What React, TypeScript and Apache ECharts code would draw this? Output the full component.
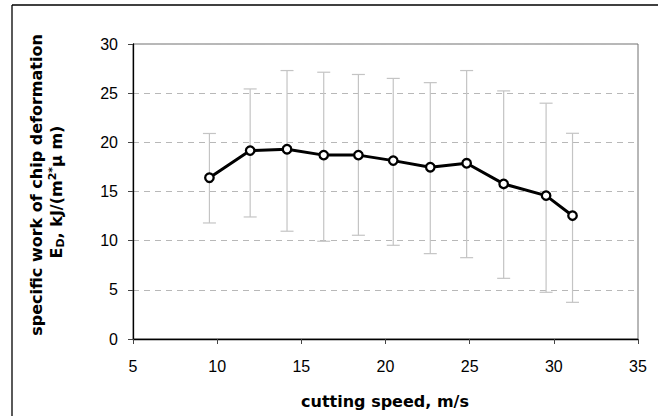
import React, { useEffect, useRef } from "react";
import * as echarts from "echarts";

const speeds = [9.54, 11.96, 14.15, 16.33, 18.39, 20.46, 22.66, 24.82, 27.02, 29.54, 31.11];
const work = [16.4, 19.16, 19.3, 18.7, 18.7, 18.14, 17.47, 17.87, 15.77, 14.58, 12.54];
const upper = [20.9, 25.43, 27.3, 27.13, 26.9, 26.5, 26.07, 27.3, 25.23, 23.98, 20.92];
const lower = [11.8, 12.41, 10.96, 9.94, 10.55, 9.53, 8.68, 8.27, 6.17, 4.75, 3.73];

const xTitle = "cutting speed, m/s";
const yTitle1 = "specific work of chip deformation";

export default function App() {
  const ref = useRef<HTMLDivElement>(null);
  useEffect(() => {
    if (!ref.current) return;
    const chart = echarts.init(ref.current, undefined, { renderer: "svg" });
    const font = "'Liberation Sans', Arial, sans-serif";
    const tfont = "'DejaVu Sans', sans-serif";
    const lineData = speeds.map((x, i) => [x, work[i]]);
    const errData = speeds.map((x, i) => [x, lower[i], upper[i]]);
    chart.setOption({
      animation: false,
      backgroundColor: "#fff",
      grid: {
        left: 133,
        right: 20,
        top: 44,
        bottom: 77,
        show: true,
        borderColor: "#707070",
        borderWidth: 1,
      },
      xAxis: {
        type: "value",
        min: 5,
        max: 35,
        interval: 5,
        axisLine: { show: true, onZero: false, lineStyle: { color: "#000", width: 1.3 } },
        axisTick: { show: true, length: 5, lineStyle: { color: "#444" } },
        axisLabel: { color: "#000", fontSize: 16, fontFamily: font, margin: 19 },
        splitLine: { show: false },
      },
      yAxis: {
        type: "value",
        min: 0,
        max: 30,
        interval: 5,
        axisLine: { show: true, lineStyle: { color: "#000", width: 1.3 } },
        axisTick: { show: true, length: 5, lineStyle: { color: "#444" } },
        axisLabel: { color: "#000", fontSize: 16, fontFamily: font, margin: 15 },
        splitLine: { show: true, lineStyle: { color: "#b8b8b8", type: [6, 5], width: 1 } },
      },
      graphic: [
        { type: "line", shape: { x1: 12, y1: 5, x2: 658, y2: 5 }, style: { stroke: "#000", lineWidth: 1.3 } },
        { type: "line", shape: { x1: 12, y1: 5, x2: 12, y2: 416 }, style: { stroke: "#000", lineWidth: 1.3 } },
        {
          type: "text",
          x: 385,
          y: 401,
          style: {
            text: xTitle,
            font: `bold 16px ${tfont}`,
            fill: "#000",
            align: "center",
            verticalAlign: "middle",
          },
        },
        {
          type: "text",
          x: 36,
          y: 185,
          rotation: Math.PI / 2,
          style: {
            text: yTitle1,
            font: `bold 16px ${tfont}`,
            fill: "#000",
            align: "center",
            verticalAlign: "middle",
          },
        },
        {
          type: "text",
          x: 56,
          y: 192,
          rotation: Math.PI / 2,
          style: {
            text: "{b|E}{sub|D}{b|, kJ/(m}{sup|2*}{b|μ m)}",
            align: "center",
            verticalAlign: "middle",
            rich: {
              b: { font: `bold 16px ${tfont}`, fill: "#000" },
              sub: { font: `bold 11px ${tfont}`, fill: "#000", padding: [8, 0, 0, 0] },
              sup: { font: `bold 11px ${tfont}`, fill: "#000", padding: [0, 0, 8, 0] },
            },
          },
        },
      ],
      series: [
        {
          type: "custom",
          z: 1,
          data: errData,
          renderItem: (params: any, api: any) => {
            const x = api.value(0);
            const lo = api.coord([x, api.value(1)]);
            const hi = api.coord([x, api.value(2)]);
            const w = 6.5;
            const st = { stroke: "#c4c4c4", lineWidth: 1.2 };
            return {
              type: "group",
              children: [
                { type: "line", shape: { x1: lo[0], y1: lo[1], x2: hi[0], y2: hi[1] }, style: st },
                { type: "line", shape: { x1: lo[0] - w, y1: lo[1], x2: lo[0] + w, y2: lo[1] }, style: st },
                { type: "line", shape: { x1: hi[0] - w, y1: hi[1], x2: hi[0] + w, y2: hi[1] }, style: st },
              ],
            };
          },
        },
        {
          type: "line",
          z: 3,
          data: lineData,
          symbol: "circle",
          symbolSize: 8.5,
          lineStyle: { color: "#000", width: 3 },
          itemStyle: { color: "#fff", borderColor: "#000", borderWidth: 2.3 },
        },
      ],
    });
    return () => chart.dispose();
  }, []);
  return (
    <div
      ref={ref}
      style={{ position: "fixed", left: 0, top: 0, width: 658, height: 416, background: "#fff" }}
    />
  );
}
